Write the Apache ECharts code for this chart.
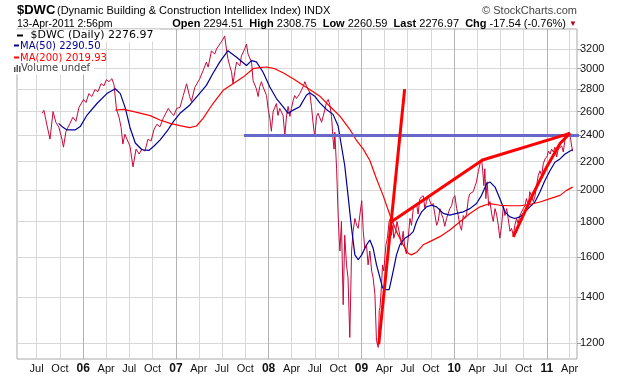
<!DOCTYPE html>
<html>
<head>
<meta charset="utf-8">
<script src="https://cdn.jsdelivr.net/npm/echarts@6/dist/echarts.min.js"></script>
<style>
  html, body { margin: 0; padding: 0; background: #fff; }
  #chart { width: 620px; height: 376px; }
</style>
</head>
<body>
<div id="chart"></div>
<script>
var priceDaily = [
  ['2005-07-22',2584],['2005-07-30',2610],['2005-08-11',2483],['2005-08-23',2371],['2005-09-04',2600],['2005-09-15',2508],
  ['2005-09-27',2466],['2005-10-09',2371],['2005-10-15',2308],['2005-10-25',2434],['2005-11-10',2500],['2005-11-21',2550],
  ['2005-12-03',2516],['2005-12-15',2635],['2006-01-02',2706],['2006-01-12',2679],['2006-01-23',2760],['2006-02-04',2733],
  ['2006-02-16',2797],['2006-02-28',2778],['2006-03-12',2852],['2006-03-24',2833],['2006-04-02',2891],['2006-04-12',2872],
  ['2006-04-24',2901],['2006-05-02',2843],['2006-05-12',2618],['2006-05-22',2550],['2006-05-30',2466],['2006-06-06',2332],
  ['2006-06-14',2410],['2006-06-22',2371],['2006-07-04',2316],['2006-07-16',2161],['2006-07-28',2293],['2006-08-09',2256],
  ['2006-08-20',2293],['2006-09-01',2278],['2006-09-13',2371],['2006-09-25',2355],['2006-10-07',2450],['2006-10-18',2491],
  ['2006-10-30',2470],['2006-11-12',2541],['2006-12-02',2627],['2006-12-15',2584],['2006-12-24',2566],['2007-01-04',2627],
  ['2007-01-17',2635],['2007-01-30',2742],['2007-02-12',2852],['2007-02-24',2733],['2007-03-03',2688],['2007-03-16',2815],
  ['2007-04-05',2901],['2007-04-18',2979],['2007-05-01',3066],['2007-05-08',3015],['2007-05-21',3182],['2007-06-03',3150],
  ['2007-06-10',3203],['2007-06-23',3257],['2007-07-06',3311],['2007-07-12',3346],['2007-07-19',3203],['2007-07-25',3099],
  ['2007-08-01',3028],['2007-08-08',2968],['2007-08-14',2852],['2007-08-21',2968],['2007-08-28',3066],['2007-09-10',3028],
  ['2007-09-16',3130],['2007-09-29',3203],['2007-10-06',3257],['2007-10-12',3150],['2007-10-19',3171],['2007-10-26',3066],
  ['2007-11-01',2882],['2007-11-14',2804],['2007-11-21',2733],['2007-11-27',2824],['2007-12-04',2872],['2007-12-10',2824],
  ['2007-12-24',2742],['2007-12-30',2627],['2008-01-06',2541],['2008-01-12',2434],['2008-01-19',2600],['2008-02-01',2670],
  ['2008-02-07',2566],['2008-02-14',2627],['2008-02-27',2566],['2008-03-05',2402],['2008-03-12',2566],['2008-03-18',2644],
  ['2008-03-25',2558],['2008-03-31',2627],['2008-04-07',2697],['2008-04-13',2742],['2008-04-20',2715],['2008-05-03',2760],
  ['2008-05-16',2824],['2008-05-23',2872],['2008-05-29',2833],['2008-06-05',2824],['2008-06-11',2769],['2008-06-18',2644],
  ['2008-06-24',2508],['2008-07-01',2387],['2008-07-08',2558],['2008-07-14',2584],['2008-07-21',2600],['2008-07-28',2508],
  ['2008-08-03',2558],['2008-08-10',2618],['2008-08-16',2679],['2008-08-23',2706],['2008-08-29',2661],['2008-09-05',2558],
  ['2008-09-11',2371],['2008-09-15',2293],['2008-09-18',2426],['2008-09-25',2147],['2008-10-01',1846],['2008-10-05',1703],
  ['2008-10-08',1632],['2008-10-14',1801],['2008-10-21',1364],['2008-10-27',1720],['2008-11-03',1558],['2008-11-09',1492],
  ['2008-11-16',1223],['2008-11-23',1632],['2008-11-29',1743],['2008-12-06',1819],['2008-12-13',1778],['2008-12-19',1760],
  ['2008-12-26',1846],['2009-01-02',1930],['2009-01-08',1743],['2009-01-14',1647],['2009-01-21',1664],['2009-01-27',1558],
  ['2009-02-03',1632],['2009-02-10',1527],['2009-02-16',1492],['2009-02-23',1410],['2009-03-01',1211],['2009-03-08',1183],
  ['2009-03-12',1338],['2009-03-15',1351],['2009-03-21',1457],['2009-03-25',1558],['2009-03-30',1527],['2009-04-07',1664],
  ['2009-04-13',1703],['2009-04-20',1801],['2009-04-25',1819],['2009-04-29',1720],['2009-05-05',1778],['2009-05-08',1703],
  ['2009-05-16',1743],['2009-05-21',1801],['2009-05-29',1743],['2009-06-08',1664],['2009-06-14',1743],['2009-06-21',1647],
  ['2009-06-27',1617],['2009-07-04',1703],['2009-07-11',1819],['2009-07-17',1778],['2009-07-24',1880],['2009-07-30',1899],
  ['2009-08-06',1912],['2009-08-12',1846],['2009-08-19',1944],['2009-09-01',1963],['2009-09-08',1880],['2009-09-14',1925],
  ['2009-09-21',1957],['2009-10-04',1899],['2009-10-10',1912],['2009-10-17',1846],['2009-10-24',1778],['2009-10-30',1801],
  ['2009-11-06',1880],['2009-11-12',1846],['2009-11-19',1819],['2009-11-25',1772],['2009-12-02',1819],['2009-12-15',1880],
  ['2009-12-22',1899],['2009-12-28',1944],['2010-01-04',1963],['2010-01-11',1880],['2010-01-17',1837],['2010-01-24',1778],
  ['2010-01-30',1749],['2010-02-06',1837],['2010-02-12',1819],['2010-02-19',1846],['2010-02-26',1944],['2010-03-04',1976],
  ['2010-03-11',1963],['2010-03-17',1989],['2010-03-24',1996],['2010-03-30',2056],['2010-04-06',2126],['2010-04-13',2183],
  ['2010-04-19',2219],['2010-04-24',2126],['2010-04-28',2030],['2010-05-02',2147],['2010-05-06',1944],['2010-05-11',2056],
  ['2010-05-17',1899],['2010-05-22',1925],['2010-05-29',1846],['2010-06-04',1801],['2010-06-11',1880],['2010-06-17',1846],
  ['2010-06-24',1778],['2010-06-30',1703],['2010-07-07',1778],['2010-07-14',1899],['2010-07-20',1837],['2010-07-27',1880],
  ['2010-08-02',1819],['2010-08-09',1743],['2010-08-15',1760],['2010-08-22',1720],['2010-08-28',1778],['2010-09-04',1819],
  ['2010-09-10',1789],['2010-09-17',1837],['2010-09-30',1880],['2010-10-07',1899],['2010-10-13',1944],['2010-10-20',1899],
  ['2010-10-26',1989],['2010-11-02',1957],['2010-11-09',1925],['2010-11-15',1957],['2010-11-22',2030],['2010-11-28',2098],
  ['2010-12-05',2133],['2010-12-12',2098],['2010-12-18',2183],['2010-12-25',2219],['2011-01-03',2241],['2011-01-07',2278],
  ['2011-01-14',2256],['2011-01-20',2293],['2011-01-27',2271],['2011-02-02',2308],['2011-02-09',2233],['2011-02-15',2293],
  ['2011-02-22',2278],['2011-03-01',2316],['2011-03-07',2271],['2011-03-14',2371],['2011-03-20',2394],['2011-03-27',2426],
  ['2011-04-02',2394],['2011-04-05',2371],['2011-04-09',2316],['2011-04-13',2276.97]
];

// 50 day moving average
var ma50 = [
  ['2005-09-26',2499],['2005-10-13',2466],['2005-10-29',2445],['2005-11-30',2445],['2005-12-20',2472],['2006-01-16',2569],
  ['2006-02-24',2670],['2006-04-04',2760],['2006-05-07',2805],['2006-05-27',2760],['2006-06-16',2627],['2006-07-05',2458],
  ['2006-07-25',2340],['2006-08-20',2288],['2006-09-16',2283],['2006-10-05',2313],['2006-10-31',2365],['2006-11-27',2434],
  ['2006-12-22',2514],['2007-01-17',2584],['2007-02-24',2655],['2007-03-28',2742],['2007-05-01',2837],['2007-05-26',2949],
  ['2007-06-23',3068],['2007-07-25',3185],['2007-08-28',3116],['2007-10-06',3031],['2007-10-26',3081],['2007-11-14',3068],
  ['2007-12-10',2966],['2008-01-06',2822],['2008-02-01',2715],['2008-02-27',2642],['2008-03-18',2584],['2008-04-07',2612],
  ['2008-05-03',2642],['2008-05-29',2745],['2008-06-11',2767],['2008-07-01',2736],['2008-07-21',2676],['2008-08-16',2618],
  ['2008-09-11',2575],['2008-10-01',2477],['2008-10-14',2319],['2008-10-27',2171],['2008-11-09',1965],['2008-11-23',1760],
  ['2008-12-06',1611],['2008-12-19',1585],['2009-01-02',1611],['2009-01-21',1666],['2009-02-03',1693],['2009-02-16',1647],
  ['2009-03-01',1559],['2009-03-15',1492],['2009-03-25',1443],['2009-04-03',1435],['2009-04-20',1435],['2009-05-03',1508],
  ['2009-05-19',1611],['2009-06-01',1666],['2009-06-21',1703],['2009-07-11',1722],['2009-07-24',1741],['2009-08-06',1801],
  ['2009-08-26',1860],['2009-09-14',1891],['2009-10-04',1901],['2009-10-24',1891],['2009-11-19',1850],['2009-12-15',1840],
  ['2010-01-11',1850],['2010-02-06',1860],['2010-03-04',1880],['2010-03-30',1912],['2010-04-19',1965],['2010-05-09',2043],
  ['2010-05-22',2055],['2010-06-11',2020],['2010-06-30',1944],['2010-07-20',1860],['2010-08-09',1829],['2010-08-28',1819],
  ['2010-09-17',1829],['2010-10-07',1860],['2010-10-26',1891],['2010-11-15',1922],['2010-12-05',1987],['2010-12-25',2066],
  ['2011-01-14',2135],['2011-02-02',2195],['2011-02-22',2219],['2011-03-14',2256],['2011-04-13',2290.50]
];

// 200 day moving average
var ma200 = [
  ['2006-05-07',2612],['2006-06-09',2618],['2006-07-19',2598],['2006-09-22',2564],['2006-10-30',2527],['2006-12-09',2499],
  ['2007-01-17',2480],['2007-02-24',2464],['2007-03-23',2477],['2007-04-18',2541],['2007-05-27',2670],['2007-07-06',2790],
  ['2007-08-14',2852],['2007-09-23',2916],['2007-11-01',2999],['2007-11-27',3009],['2007-12-24',3016],['2008-01-25',2999],
  ['2008-02-27',2959],['2008-04-07',2901],['2008-05-16',2837],['2008-06-11',2797],['2008-07-21',2736],['2008-08-29',2646],
  ['2008-10-08',2560],['2008-11-16',2450],['2008-12-13',2358],['2009-01-08',2293],['2009-02-03',2207],['2009-03-01',2077],
  ['2009-03-27',1965],['2009-04-23',1840],['2009-05-19',1741],['2009-06-14',1666],['2009-07-04',1620],['2009-07-17',1611],
  ['2009-08-06',1625],['2009-09-01',1666],['2009-09-27',1684],['2009-11-06',1712],['2009-12-15',1750],['2010-01-24',1799],
  ['2010-03-04',1850],['2010-04-13',1891],['2010-05-22',1912],['2010-06-30',1901],['2010-08-09',1898],['2010-09-17',1898],
  ['2010-10-26',1906],['2010-12-05',1922],['2011-01-14',1944],['2011-02-22',1965],['2011-03-20',1998],['2011-04-13',2019.93]
];

// hand drawn annotation lines
var levelLine = [['2007-09-26',2400],['2011-08-10',2400]];
var steepLine = [['2009-03-10',1195],['2009-06-20',2802]];
var upperLine = [['2009-04-26',1796],['2010-04-23',2211],['2011-04-02',2417]];
var lowerLine = [['2010-08-22',1711],['2010-11-09',1978],['2011-01-01',2162],['2011-02-23',2338],['2011-04-03',2420]];

var yTicks = [1200,1400,1600,1800,2000,2200,2400,2600,2800,3000,3200];
var quarterTicks = ['2005-07-01','2005-10-01','2006-01-01','2006-04-01','2006-07-01','2006-10-01','2007-01-01','2007-04-01',
  '2007-07-01','2007-10-01','2008-01-01','2008-04-01','2008-07-01','2008-10-01','2009-01-01','2009-04-01','2009-07-01',
  '2009-10-01','2010-01-01','2010-04-01','2010-07-01','2010-10-01','2011-01-01','2011-04-01'];
var yearTicks = ['2006-01-01','2007-01-01','2008-01-01','2009-01-01','2010-01-01','2011-01-01'];
var monthNames = ['Jan','Feb','Mar','Apr','May','Jun','Jul','Aug','Sep','Oct','Nov','Dec'];
var xStart = '2005-04-15', xEnd = '2011-04-30';

// dates -> ms so a plain value axis can carry them
function ts(s) {
  var p = s.split('-');
  return new Date(+p[0], +p[1] - 1, +p[2]).getTime();
}
function pts(arr) {
  return arr.map(function (d) { return [ts(d[0]), d[1]]; });
}

var FONT = '"Liberation Sans", Arial, sans-serif';
var VFONT = '"DejaVu Sans", Verdana, sans-serif';
var chart = echarts.init(document.getElementById('chart'));

function lineSeries(name, data, color, width, z) {
  return {
    name: name, type: 'line', data: pts(data), showSymbol: false, symbol: 'none',
    lineStyle: { color: color, width: width }, z: z, silent: true
  };
}

var level = lineSeries('level', levelLine, '#6868c8', 3, 4);
level.clip = false;

chart.setOption({
  animation: false,
  backgroundColor: '#fff',
  grid: { left: 17, top: 29, width: 560, height: 330, show: true, borderColor: '#a9a9a9', borderWidth: 1 },
  xAxis: [{
    type: 'value', min: ts(xStart), max: ts(xEnd),
    axisLine: { show: false },
    axisTick: { show: false, customValues: quarterTicks.map(ts) },
    axisLabel: {
      customValues: quarterTicks.map(ts), margin: 4, color: '#111', fontSize: 11, fontFamily: FONT,
      formatter: function (v) {
        var d = new Date(v);
        if (d.getMonth() === 0) return '{yr|' + String(d.getFullYear() % 100).padStart(2, '0') + '}';
        return monthNames[d.getMonth()];
      },
      rich: { yr: { fontWeight: 'bold', fontSize: 12, fontFamily: FONT, color: '#111' } }
    },
    splitLine: { show: true, lineStyle: { color: '#d8d8d8', width: 1 } }
  }, {
    type: 'value', min: ts(xStart), max: ts(xEnd), position: 'top',
    axisLine: { show: false },
    axisTick: { show: false, customValues: yearTicks.map(ts) },
    axisLabel: { show: false },
    splitLine: { show: true, lineStyle: { color: '#b2b2b2', width: 1 } }
  }],
  yAxis: {
    type: 'log', logBase: 10, position: 'right', min: 1138, max: 3424,
    axisLine: { show: false },
    axisTick: { show: true, customValues: yTicks, length: 4, lineStyle: { color: '#999' } },
    axisLabel: {
      customValues: yTicks, margin: 3, color: '#111', fontSize: 11, fontFamily: FONT,
      formatter: function (v) { return String(Math.round(v)); }
    },
    splitLine: { show: true, lineStyle: { color: '#d8d8d8', width: 1 } }
  },
  series: [
    lineSeries('$DWC', priceDaily, '#c8083a', 1, 2),
    lineSeries('MA(50)', ma50, '#000099', 1.2, 3),
    lineSeries('MA(200)', ma200, '#ff0000', 1.2, 3),
    level,
    lineSeries('steep', steepLine, '#ff0000', 3, 5),
    lineSeries('upper', upperLine, '#ff0000', 3, 5),
    lineSeries('lower', lowerLine, '#ff0000', 3, 5)
  ],
  graphic: [
    { type: 'text', x: 17, y: 10, style: { text: '$DWC', font: 'bold 13px ' + FONT, fill: '#000', verticalAlign: 'middle' } },
    { type: 'text', x: 57, y: 11, style: { text: '(Dynamic Building & Construction Intellidex Index) INDX', font: '11px ' + FONT, fill: '#000', verticalAlign: 'middle' } },
    { type: 'text', x: 577, y: 11, style: { text: '\u00a9 StockCharts.com', font: '11px ' + FONT, fill: '#444', align: 'right', verticalAlign: 'middle' } },
    { type: 'text', x: 17, y: 24, style: { text: '13-Apr-2011 2:56pm', font: '10.5px ' + FONT, fill: '#000', verticalAlign: 'middle' } },
    { type: 'text', x: 566, y: 24, style: {
      text: '{b|Open} 2294.51  {b|High} 2308.75  {b|Low} 2260.59  {b|Last} 2276.97  {b|Chg} -17.54 (-0.76%)',
      font: '11px ' + FONT, fill: '#000', align: 'right', verticalAlign: 'middle',
      rich: { b: { font: 'bold 11px ' + FONT, fill: '#000' } }
    } },
    { type: 'text', x: 573, y: 24, style: { text: '\u25bc', font: '8px ' + FONT, fill: '#b3001b', align: 'center', verticalAlign: 'middle' } },
    // legend block, each row on its own white strip
    { type: 'rect', z: 10, shape: { x: 14, y: 29.5, width: 146, height: 12 }, style: { fill: '#fff' } },
    { type: 'rect', z: 10, shape: { x: 14, y: 41.5, width: 86, height: 11 }, style: { fill: '#fff' } },
    { type: 'rect', z: 10, shape: { x: 14, y: 52.5, width: 92, height: 11 }, style: { fill: '#fff' } },
    { type: 'rect', z: 10, shape: { x: 14, y: 63.5, width: 80, height: 11 }, style: { fill: '#fff' } },
    { type: 'rect', z: 11, shape: { x: 17, y: 34.5, width: 6, height: 2 }, style: { fill: '#000' } },
    { type: 'text', z: 11, x: 30.5, y: 35.5, style: { text: '$DWC (Daily) 2276.97', font: '11px ' + VFONT, fill: '#000', verticalAlign: 'middle' } },
    { type: 'rect', z: 11, shape: { x: 14, y: 44.5, width: 5, height: 2 }, style: { fill: '#000099' } },
    { type: 'text', z: 11, x: 20, y: 46.5, style: { text: 'MA(50) 2290.50', font: '10px ' + VFONT, fill: '#000099', verticalAlign: 'middle' } },
    { type: 'rect', z: 11, shape: { x: 14, y: 56.5, width: 5, height: 2 }, style: { fill: '#ff0000' } },
    { type: 'text', z: 11, x: 20, y: 58, style: { text: 'MA(200) 2019.93', font: '10px ' + VFONT, fill: '#ff0000', verticalAlign: 'middle' } },
    { type: 'rect', z: 11, shape: { x: 14, y: 67, width: 1.5, height: 5 }, style: { fill: '#555' } },
    { type: 'rect', z: 11, shape: { x: 16.5, y: 65, width: 1.5, height: 7 }, style: { fill: '#555' } },
    { type: 'rect', z: 11, shape: { x: 19, y: 66, width: 1.5, height: 6 }, style: { fill: '#555' } },
    { type: 'text', z: 11, x: 21, y: 68.5, style: { text: 'Volume undef', font: '10px ' + VFONT, fill: '#444', verticalAlign: 'middle' } }
  ]
});
</script>
</body>
</html>
